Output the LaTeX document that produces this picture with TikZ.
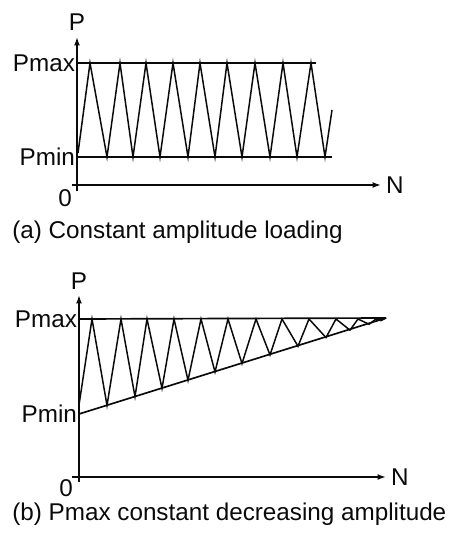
\documentclass[tikz,border=0pt]{standalone}
\usepackage{fontspec}
\setmainfont{Liberation Sans}
\usepackage{tikz}
\usetikzlibrary{arrows.meta,positioning,calc}
\definecolor{inkblack}{RGB}{10,10,10}
\tikzset{
  axis/.style={
    draw=inkblack,
    line width=0.95pt,
    -{Latex[length=4.8pt,width=3.4pt]}
  },
  level/.style={
    draw=inkblack,
    line width=0.95pt
  },
  load/.style={
    draw=inkblack,
    line width=0.85pt,
    line join=miter
  },
  lbl/.style={
    inner sep=1pt,
    text=inkblack,
    font=\fontsize{13.8}{16}\selectfont
  },
  caption/.style={
    lbl,
    inner sep=0pt,
    anchor=base west
  },
  origin/.style={
    lbl,
    inner sep=0pt
  }
}

\begin{document}
\begin{tikzpicture}[x=0.02cm, y=-0.02cm]
            \useasboundingbox (0,0) rectangle (452,541);
            % (a) constant amplitude
            \coordinate (ya0) at (77,191);
            \coordinate (ya1) at (77,37);
            \coordinate (xa0) at (72,185);
            \coordinate (xa1) at (381,185);
            \coordinate (maxa) at (77,63);
            \coordinate (maxaend) at (316,63);
            \coordinate (mina) at (77,157);
            \coordinate (minaend) at (332,157);
            \draw[axis] (ya0) -- (ya1);
            \draw[axis] (xa0) -- (xa1);
            \draw[level] (maxa) -- (maxaend);
            \draw[level] (mina) -- (minaend);
            \draw[load] (78,153)
              \foreach \p/\v in {90/107,120/133,146/160,173/188,200/215,227/242,255/270,283/297,311/325}
                { -- (\p,63) -- (\v,157) } -- (332,110);
            \node[lbl] (pa) at (77,22) {P};
            \node[lbl, anchor=west] (na) at (384,185) {N};
            \node[origin] (oa) at (65,198) {0};
            \node[lbl, anchor=east] (pmaxa) at (maxa) {Pmax};
            \node[lbl, anchor=east] (pmina) at (mina) {Pmin};
            \node[caption] (capa) at (12,238) {(a) Constant amplitude loading};
            % (b) Pmax constant, decreasing amplitude
            \coordinate (yb0) at (79,482);
            \coordinate (yb1) at (79,295);
            \coordinate (xb0) at (72,477);
            \coordinate (xb1) at (386,477);
            \coordinate (maxb) at (79,319);
            \coordinate (minb) at (79,414);
            \coordinate (tipb) at (386,318);
            \draw[axis] (yb0) -- (yb1);
            \draw[axis] (xb0) -- (xb1);
            \draw[level] (maxb) -- (tipb);
            \draw[level] (minb) -- (tipb);
            \draw[load] (79,405)
              \foreach \p/\v in {92/107,121/135,147/162,174/188,201/215,228/242,256/270,282/298,309/326,336/350,358/369,376/381}
                { -- (\p,319) -- (\v,{414-(\v-79)*0.3094}) } -- (tipb);
            \node[lbl] (pb) at (79,281) {P};
            \node[lbl, anchor=west] (nb) at (389,477) {N};
            \node[origin] (ob) at (66,488) {0};
            \node[lbl, anchor=east] (pmaxb) at (maxb) {Pmax};
            \node[lbl, anchor=east] (pminb) at (minb) {Pmin};
            \node[caption] (capb) at (12,520) {(b) Pmax constant decreasing amplitude};
          \end{tikzpicture}
\end{document}
